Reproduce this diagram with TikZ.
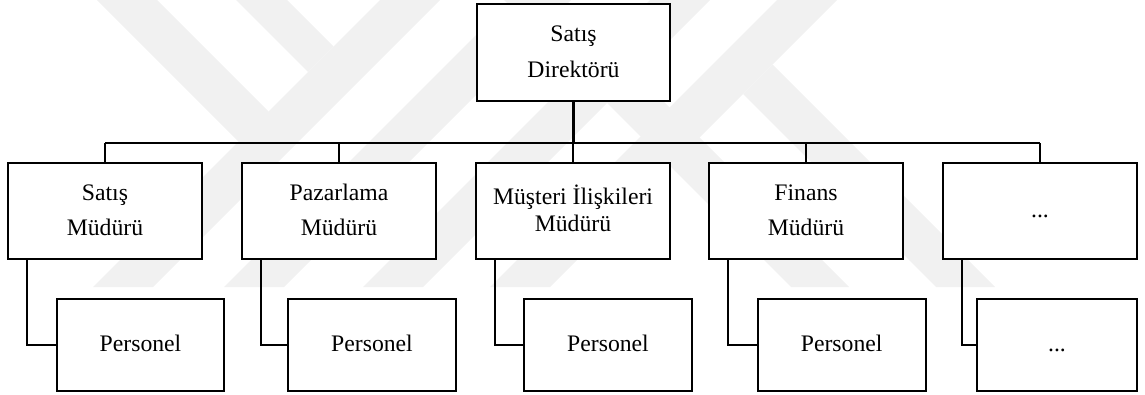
\documentclass[tikz,border=0pt]{standalone}
\usepackage{fontspec}
\setmainfont{Liberation Serif}
\begin{document}
\begin{tikzpicture}[x=1pt,y=-1pt,
  box/.style={draw=black, line width=2.2pt, fill=white, inner sep=0pt},
  lvlone/.style={box, minimum width=194pt, minimum height=96pt},
  lvltwo/.style={box, minimum width=168pt, minimum height=91.5pt},
  wire/.style={line width=1.9pt, line join=miter},
  trunk/.style={line width=3pt},
  lbl/.style={anchor=base, inner sep=0pt, font=\fontsize{23.7}{28}\selectfont},
  wm/.style={fill=black!5.5, draw=none}]
\useasboundingbox (0,0) rectangle (1145,394);

% faint background emblem
\fill[wm] (380,0) -- (440,0) -- (153,287) -- (93,287) -- cycle;
\fill[wm] (511,0) -- (571,0) -- (284,287) -- (224,287) -- cycle;
\fill[wm] (650,0) -- (710,0) -- (423,287) -- (363,287) -- cycle;
\fill[wm] (777,0) -- (837,0) -- (550,287) -- (490,287) -- cycle;
\fill[wm] (97,0) -- (157,0) -- (268.5,111.5) -- (268.5,171.5) -- cycle;
\fill[wm] (236,0) -- (287,0) -- (333.5,46.5) -- (308,72) -- cycle;
\fill[wm] (772.5,64.5) -- (995,287) -- (936,287) -- (743,94) -- cycle;
\fill[wm] (504,0) -- (562,0) -- (849,287) -- (791,287) -- cycle;

% bus coordinates
\coordinate (busL) at (105,142.7);
\coordinate (busR) at (1040,142.7);

% boxes
\node[box, minimum width=193pt, minimum height=97pt] (dir) at (573.5,52.5) {};
\node[lvlone] (m1) at (105,211) {};
\node[lvlone] (m2) at (339,211) {};
\node[lvlone] (m3) at (573,211) {};
\node[lvlone] (m4) at (806,211) {};
\node[lvlone] (m5) at (1040,211) {};
\node[lvltwo, minimum width=167pt] (p1) at (140.5,345) {};
\node[lvltwo] (p2) at (372,345) {};
\node[lvltwo] (p3) at (608,345) {};
\node[lvltwo] (p4) at (841.7,345) {};
\node[lvltwo, minimum width=160pt] (p5) at (1057,345) {};

% connectors
\draw[trunk] (dir.south) -- (dir.south |- busL);
\draw[wire] (busL) -- (busR);
\foreach \i in {1,...,5} {
  \draw[wire] (m\i.north) -- (m\i.north |- busL);
  \draw[wire] ([xshift=20pt]m\i.south west) |- (p\i.west);
}

% labels
\node[lbl] (dir-a) at (573.5,41.7) {Satış};
\node[lbl] (dir-b) at (573.5,77.3) {Direktörü};
\node[lbl] (m1-a) at (105,200) {Satış};
\node[lbl] (m1-b) at (105,235.5) {Müdürü};
\node[lbl] (m2-a) at (339,200) {Pazarlama};
\node[lbl] (m2-b) at (339,235.5) {Müdürü};
\node[lbl] (m3-a) at (573,204) {Müşteri İlişkileri};
\node[lbl] (m3-b) at (573,231.7) {Müdürü};
\node[lbl] (m4-a) at (806,200) {Finans};
\node[lbl] (m4-b) at (806,235.5) {Müdürü};
\node[lbl] (m5-a) at (1040,217) {...};
\foreach \i in {1,...,4} {
  \node[lbl] (p\i-a) at ([yshift=-6pt]p\i.center) {Personel};
}
\node[lbl] (p5-a) at ([yshift=-6pt]p5.center) {...};
\end{tikzpicture}
\end{document}
